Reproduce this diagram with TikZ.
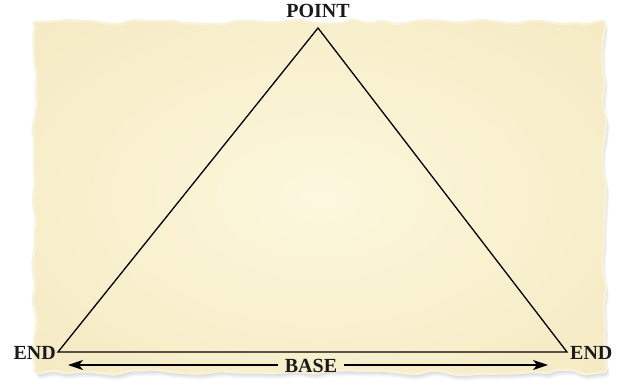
\documentclass[tikz,border=0pt]{standalone}
\usepackage{fontspec}
\setmainfont{Liberation Serif}
\usetikzlibrary{arrows.meta,decorations.pathmorphing}
\definecolor{paperin}{HTML}{FCF8DE}
\definecolor{papermid}{HTML}{FAF3D3}
\definecolor{paperout}{HTML}{F3E7BE}
\definecolor{paperedge}{HTML}{F6EDCD}
\definecolor{rim}{HTML}{F9F2DA}
\definecolor{shadowc}{HTML}{8A8F9C}
\definecolor{ink}{HTML}{1A1A1A}
\pgfdeclareradialshading{paperglow}{\pgfpoint{0bp}{0bp}}{%
  color(0bp)=(paperin); color(12bp)=(papermid); color(42bp)=(paperout); color(50bp)=(paperedge); color(80bp)=(paperedge)}
\tikzset{
  torn/.style={decorate,decoration={random steps,segment length=13pt,amplitude=2.8pt},rounded corners=4pt},
  lbl/.style={font=\fontsize{20}{20}\selectfont\bfseries,text=ink,inner sep=1pt},
  tri/.style={draw=black,line width=1.3pt,line join=miter},
  basearrow/.style={draw=black,line width=1.8pt,-{Stealth[length=15pt,width=10pt,inset=4pt]}}
}
\begin{document}
\begin{tikzpicture}[x=1pt,y=-1pt]
\useasboundingbox (0,0) rectangle (628,391);
\fill[white] (0,0) rectangle (628,391);
% shadow
\foreach \d/\o in {6/0.05,5/0.06,4/0.07,3/0.08,2/0.09}{
  \pgfmathsetseed{23}
  \fill[shadowc,opacity=\o,torn] (35+\d*0.5,22+\d) rectangle (605+\d*0.5,372+\d);
}
% paper
\pgfmathsetseed{23}
\shade[torn,shading=paperglow,draw=rim,line width=2.5pt] (35,22) rectangle (605,372);
% triangle
\coordinate (apex) at (318,28);
\coordinate (lend) at (58,352);
\coordinate (rend) at (567,352);
\draw[tri] (lend) -- (apex) -- (rend) -- cycle;
% labels
\node[lbl,anchor=base] (point) at (318,17) {POINT};
\node[lbl,anchor=base east] (endl) at (57,359) {END};
\node[lbl,anchor=base west] (endr) at (569,359) {END};
\node[lbl] (base) at (311,366) {BASE};
\coordinate (arrL) at (68,365);
\coordinate (arrR) at (548,365);
\draw[basearrow] ([xshift=-6pt]base.west |- arrL) -- (arrL);
\draw[basearrow] ([xshift=6pt]base.east |- arrR) -- (arrR);
\end{tikzpicture}
\end{document}
